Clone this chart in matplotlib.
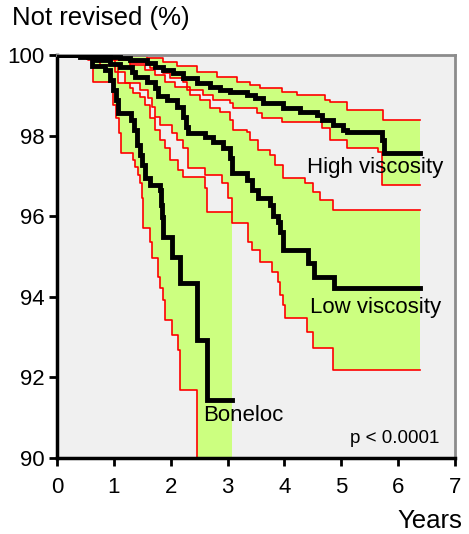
import numpy as np
import matplotlib
matplotlib.use("Agg")
import matplotlib.pyplot as plt

plt.rcParams["font.family"] = ["Liberation Sans", "DejaVu Sans"]

# Kaplan-Meier estimates (years, % not revised), step changes
boneloc_t = [0, 0.54, 0.62, 0.84, 0.93, 0.98, 1.04, 1.07, 1.30, 1.35, 1.41, 1.46, 1.49,
             1.55, 1.63, 1.81, 1.83, 1.85, 1.86, 2.02, 2.16, 2.46, 2.64, 3.08]
boneloc_s = [100, 99.95, 99.73, 99.63, 99.38, 99.13, 98.88, 98.56, 98.39, 98.14, 97.77, 97.52,
             97.27, 96.95, 96.77, 96.65, 96.28, 95.98, 95.48, 94.99, 94.34, 92.93, 91.44, 91.44]
boneloc_lo_t = [0, 0.54, 0.63, 0.98, 1.04, 1.09, 1.12, 1.34, 1.37, 1.42, 1.46, 1.49, 1.51,
                1.63, 1.67, 1.78, 1.81, 1.86, 1.90, 2.02, 2.13, 2.16, 2.46, 3.08]
boneloc_lo_s = [100, 99.88, 99.33, 98.76, 98.44, 98.06, 97.57, 97.39, 97.22, 97.02, 96.82, 96.45,
                95.71, 95.36, 94.96, 94.49, 94.22, 93.92, 93.42, 93.05, 92.68, 91.69, 89.0, 89.0]
boneloc_hi_t = [0, 0.76, 1.02, 1.07, 1.28, 1.34, 1.46, 1.55, 1.63, 1.72, 1.81, 1.90, 1.99,
                2.13, 2.21, 2.60, 2.64, 3.08]
boneloc_hi_s = [100, 99.88, 99.75, 99.31, 99.18, 99.06, 98.96, 98.76, 98.44, 98.14, 97.89, 97.69,
                97.39, 97.15, 96.97, 96.70, 96.10, 96.10]

low_t = [0, 0.40, 0.67, 0.93, 1.11, 1.32, 1.37, 1.58, 1.72, 1.78, 1.93, 2.11, 2.21, 2.27, 2.30,
         2.60, 2.74, 2.92, 3.04, 3.08, 3.34, 3.43, 3.53, 3.74, 3.80, 3.88, 3.92, 3.97, 4.41,
         4.52, 4.87, 6.38]
low_s = [100, 99.95, 99.88, 99.78, 99.70, 99.58, 99.45, 99.33, 99.18, 98.98, 98.88, 98.71, 98.46,
         98.21, 98.06, 97.97, 97.84, 97.69, 97.44, 97.07, 96.90, 96.65, 96.45, 96.28, 96.00,
         95.86, 95.61, 95.16, 94.84, 94.49, 94.22, 94.22]
low_lo_t = [0, 0.49, 0.76, 1.02, 1.20, 1.46, 1.60, 1.67, 1.72, 1.81, 2.02, 2.11, 2.21, 2.30,
            2.60, 2.90, 3.01, 3.08, 3.36, 3.43, 3.57, 3.78, 3.88, 3.92, 3.97, 4.01, 4.39, 4.50,
            4.85, 6.38]
low_lo_s = [100, 99.93, 99.75, 99.58, 99.31, 99.13, 98.93, 98.71, 98.46, 98.26, 98.06, 97.89,
            97.69, 97.20, 97.02, 96.82, 96.45, 95.83, 95.36, 95.16, 94.86, 94.62, 94.37, 94.04,
            93.80, 93.47, 93.13, 92.73, 92.18, 92.18]
low_hi_t = [0, 0.76, 1.02, 1.28, 1.55, 1.72, 1.90, 2.07, 2.34, 2.51, 2.69, 2.86, 3.04, 3.09,
            3.34, 3.39, 3.53, 3.74, 3.83, 3.97, 4.36, 4.50, 4.62, 4.85, 6.38]
low_hi_s = [100, 99.95, 99.88, 99.75, 99.63, 99.50, 99.33, 99.21, 99.01, 98.88, 98.68, 98.59,
            98.39, 98.14, 98.09, 97.89, 97.64, 97.52, 97.27, 96.95, 96.82, 96.60, 96.40, 96.15,
            96.15]

high_t = [0, 0.67, 0.93, 1.11, 1.28, 1.58, 1.72, 1.86, 2.04, 2.21, 2.46, 2.69, 2.86, 3.04, 3.34,
          3.48, 3.62, 3.97, 4.27, 4.57, 4.66, 4.85, 5.03, 5.10, 5.71, 5.76, 6.38]
high_s = [100, 99.98, 99.95, 99.93, 99.88, 99.80, 99.70, 99.63, 99.55, 99.43, 99.31, 99.21, 99.13,
          99.08, 99.01, 98.93, 98.81, 98.68, 98.59, 98.51, 98.39, 98.26, 98.14, 98.09, 97.89,
          97.57, 97.57]
high_lo_t = [0, 0.76, 1.11, 1.28, 1.63, 1.86, 1.99, 2.21, 2.28, 2.57, 2.74, 3.04, 3.09, 3.51,
             3.60, 3.95, 4.66, 4.80, 5.10, 5.64, 5.71, 6.38]
high_lo_s = [100, 99.95, 99.88, 99.80, 99.68, 99.55, 99.43, 99.33, 99.13, 99.01, 98.88, 98.81,
             98.68, 98.56, 98.44, 98.34, 98.19, 97.89, 97.69, 97.59, 96.77, 96.77]
high_hi_t = [0, 1.28, 1.58, 1.86, 2.11, 2.46, 2.81, 3.16, 3.39, 3.57, 3.95, 4.22, 4.71, 4.80,
             5.10, 5.73, 6.38]
high_hi_s = [100, 99.98, 99.93, 99.83, 99.73, 99.58, 99.45, 99.33, 99.26, 99.18, 99.08, 99.01,
             98.88, 98.83, 98.64, 98.39, 98.39]

groups = [
    ("Boneloc", boneloc_t, boneloc_s, boneloc_lo_t, boneloc_lo_s, boneloc_hi_t, boneloc_hi_s),
    ("Low viscosity", low_t, low_s, low_lo_t, low_lo_s, low_hi_t, low_hi_s),
    ("High viscosity", high_t, high_s, high_lo_t, high_lo_s, high_hi_t, high_hi_s),
]

x_ticks = [0, 1, 2, 3, 4, 5, 6, 7]
y_ticks = [90, 92, 94, 96, 98, 100]

FILL = "#ccff80"
BG = "#f0f0f0"


def step_eval(t, s, x):
    t = np.asarray(t)
    s = np.asarray(s)
    idx = np.searchsorted(t, x, side="right") - 1
    return s[np.clip(idx, 0, len(s) - 1)]


fig = plt.figure(figsize=(4.69, 5.34), dpi=100)
ax = fig.add_axes([0.1215, 0.1423, 0.8485, 0.7547])
ax.set_facecolor(BG)

# confidence bands
for name, t, s, lt, ls, ht, hs in groups:
    grid = np.unique(np.concatenate([lt, ht]))
    lo = step_eval(lt, ls, grid)
    hi = step_eval(ht, hs, grid)
    ax.fill_between(grid, lo, hi, step="post", color=FILL, lw=0, zorder=1)

for name, t, s, lt, ls, ht, hs in groups:
    ax.step(lt, ls, where="post", color="#ff0000", lw=1.2, zorder=2)
    ax.step(ht, hs, where="post", color="#ff0000", lw=1.2, zorder=2)

for name, t, s, lt, ls, ht, hs in groups:
    ax.step(t, s, where="post", color="black", lw=3.5, zorder=3, solid_joinstyle="miter")

ax.text(4.40, 97.21, "High viscosity", fontsize=16, va="center", zorder=4)
ax.text(4.45, 93.73, "Low viscosity", fontsize=16, va="center", zorder=4)
ax.text(2.57, 91.05, "Boneloc", fontsize=16, va="center", zorder=4)
ax.text(5.15, 90.48, "p < 0.0001", fontsize=13.5, va="center", zorder=4)

ax.set_xlim(0, 7)
ax.set_ylim(90, 100)
ax.set_xticks(x_ticks)
ax.set_yticks(y_ticks)
ax.tick_params(axis="both", direction="out", length=6, width=2, labelsize=16, colors="black")
ax.tick_params(axis="x", pad=8)
ax.tick_params(axis="y", pad=3)

for side in ["left", "bottom"]:
    ax.spines[side].set_color("black")
    ax.spines[side].set_linewidth(2.5)
for side in ["top", "right"]:
    ax.spines[side].set_color("#8c8c8c")
    ax.spines[side].set_linewidth(2)

fig.text(12 / 469, 1 - 18 / 534, "Not revised (%)", fontsize=18.5, va="center", ha="left")
fig.text(462 / 469, 1 - 521 / 534, "Years", fontsize=18.5, va="center", ha="right")

fig.savefig("out.png", dpi=100, facecolor="white")
